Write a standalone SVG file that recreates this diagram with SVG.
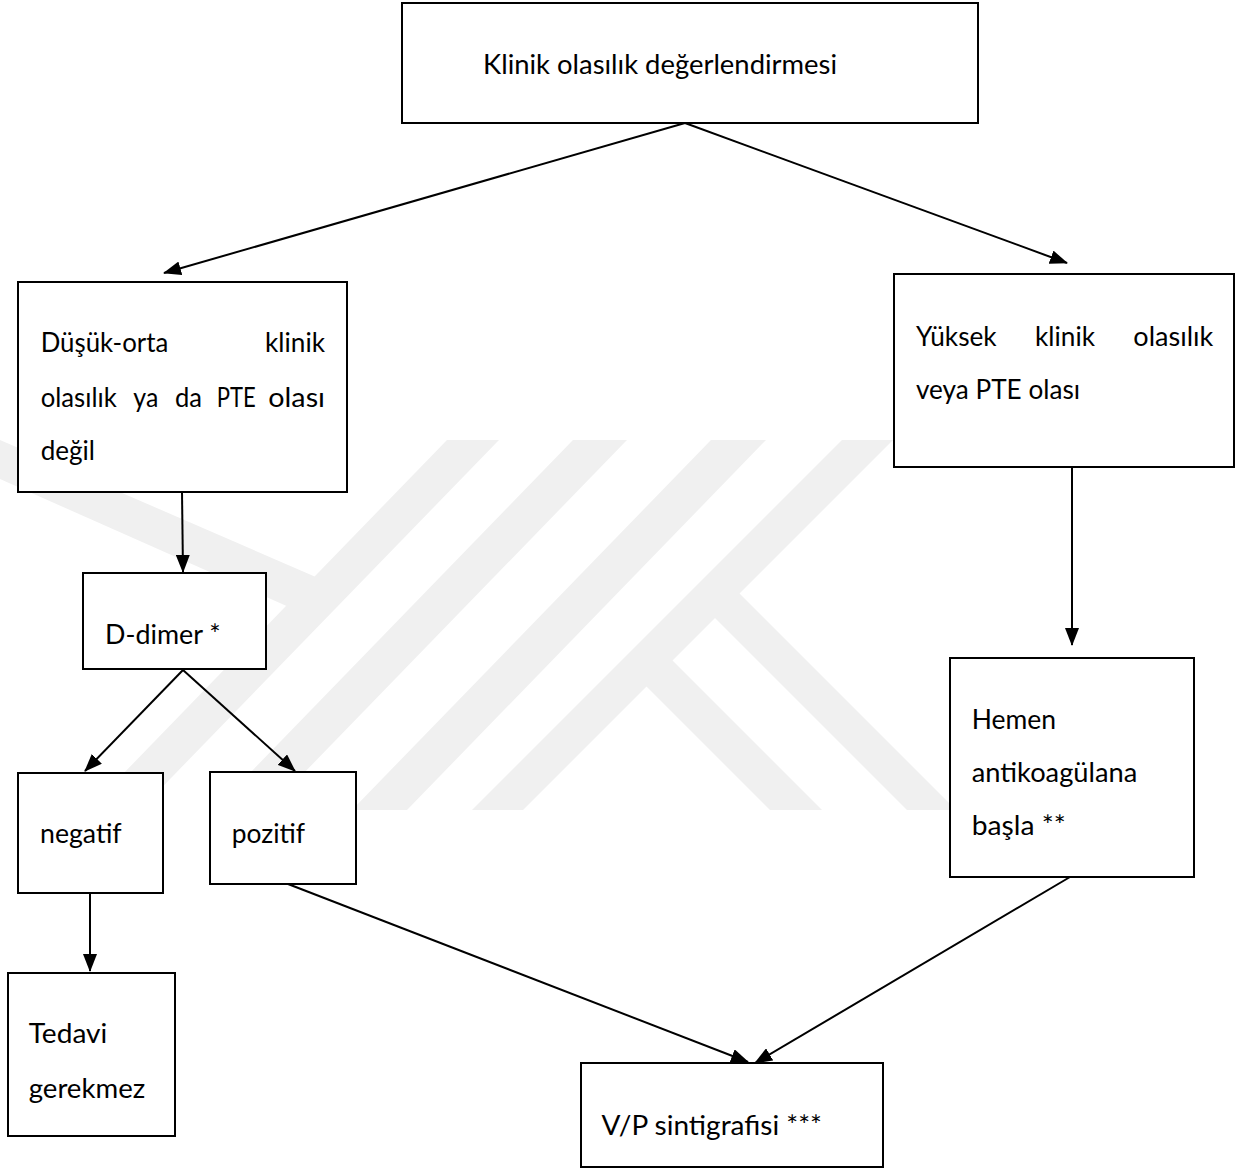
<svg xmlns="http://www.w3.org/2000/svg" width="1248" height="1172" viewBox="0 0 1248 1172">
<style>
.box{fill:#fff;stroke:#000;stroke-width:2}
.t{font-family:Lato,"Open Sans","Liberation Sans",sans-serif;font-size:27px;fill:#000}
.c{stroke:#000;stroke-width:2;fill:none;marker-end:url(#ah)}
.wm{fill:#f0f0f0}
</style>
<defs>
<marker id="ah" markerUnits="userSpaceOnUse" viewBox="0 0 18 14" refX="17" refY="7" markerWidth="18" markerHeight="14" orient="auto">
<path d="M0,0 L18,7 L0,14 z" fill="#000"/>
</marker>
</defs>
<rect width="1248" height="1172" fill="#fff"/>
<g id="watermark">
<polygon class="wm" points="447,440 499,440 140,810 88,810"/>
<polygon class="wm" points="0,440 325,581 300,612 0,479"/>
<polygon class="wm" points="573,440 627,440 268,810 214,810"/>
<polygon class="wm" points="711,440 766,440 407,810 352,810"/>
<polygon class="wm" points="842,440 893,440 523,810 472,810"/>
<polygon class="wm" points="729,583 956,810 907,810 700,603"/>
<polygon class="wm" points="660,648 822,810 770,810 628,668"/>
</g>
<g id="connectors">
<line class="c" x1="685" y1="123" x2="164" y2="273"/>
<line class="c" x1="685" y1="123" x2="1067" y2="263"/>
<line class="c" x1="182" y1="492" x2="183" y2="572"/>
<line class="c" x1="183" y1="670" x2="85" y2="771"/>
<line class="c" x1="183" y1="670" x2="295" y2="771"/>
<line class="c" x1="1072" y1="467" x2="1072" y2="645"/>
<line class="c" x1="90" y1="893" x2="90" y2="971"/>
<line class="c" x1="288" y1="884" x2="748" y2="1062"/>
<line class="c" x1="1070" y1="877" x2="755" y2="1063"/>
</g>
<g id="n1">
<rect class="box" x="402" y="3" width="576" height="120"/>
<text class="t" x="483" y="74" textLength="354" lengthAdjust="spacingAndGlyphs">Klinik olasılık değerlendirmesi</text>
</g>
<g id="n2">
<rect class="box" x="18" y="282" width="329" height="210"/>
<text class="t" x="40.7" y="351.7" textLength="127.6" lengthAdjust="spacingAndGlyphs">Düşük-orta</text>
<text class="t" x="265" y="351.7" textLength="60" lengthAdjust="spacingAndGlyphs">klinik</text>
<text class="t" x="40.7" y="406.7" textLength="76" lengthAdjust="spacingAndGlyphs">olasılık</text>
<text class="t" x="133.3" y="406.7" textLength="25" lengthAdjust="spacingAndGlyphs">ya</text>
<text class="t" x="175" y="406.7" textLength="27" lengthAdjust="spacingAndGlyphs">da</text>
<text class="t" x="216.7" y="406.7" textLength="39" lengthAdjust="spacingAndGlyphs">PTE</text>
<text class="t" x="268.3" y="406.7" textLength="56.7" lengthAdjust="spacingAndGlyphs">olası</text>
<text class="t" x="40.7" y="460" textLength="54.3" lengthAdjust="spacingAndGlyphs">değil</text>
</g>
<g id="n3">
<rect class="box" x="894" y="274" width="340" height="193"/>
<text class="t" x="916" y="346" textLength="80.7" lengthAdjust="spacingAndGlyphs">Yüksek</text>
<text class="t" x="1035" y="346" textLength="60" lengthAdjust="spacingAndGlyphs">klinik</text>
<text class="t" x="1133.3" y="346" textLength="80" lengthAdjust="spacingAndGlyphs">olasılık</text>
<text class="t" x="916" y="399.3" textLength="164" lengthAdjust="spacingAndGlyphs">veya PTE olası</text>
</g>
<g id="n4">
<rect class="box" x="83" y="573" width="183" height="96"/>
<text class="t" x="105" y="644" textLength="115.7" lengthAdjust="spacingAndGlyphs">D-dimer *</text>
</g>
<g id="n5">
<rect class="box" x="18" y="773" width="145" height="120"/>
<text class="t" x="40" y="843" textLength="81.7" lengthAdjust="spacingAndGlyphs">negatif</text>
</g>
<g id="n6">
<rect class="box" x="210" y="772" width="146" height="112"/>
<text class="t" x="231.7" y="843" textLength="73.3" lengthAdjust="spacingAndGlyphs">pozitif</text>
</g>
<g id="n7">
<rect class="box" x="950" y="658" width="244" height="219"/>
<text class="t" x="971.7" y="729" textLength="84.3" lengthAdjust="spacingAndGlyphs">Hemen</text>
<text class="t" x="971.7" y="781.7" textLength="165.6" lengthAdjust="spacingAndGlyphs">antikoagülana</text>
<text class="t" x="971.7" y="835" textLength="94" lengthAdjust="spacingAndGlyphs">başla **</text>
</g>
<g id="n8">
<rect class="box" x="8" y="973" width="167" height="163"/>
<text class="t" x="28.7" y="1043" textLength="78.6" lengthAdjust="spacingAndGlyphs">Tedavi</text>
<text class="t" x="28.7" y="1098" textLength="116.5" lengthAdjust="spacingAndGlyphs">gerekmez</text>
</g>
<g id="n9">
<rect class="box" x="581" y="1063" width="302" height="104"/>
<text class="t" x="601.6" y="1135" textLength="220.4" lengthAdjust="spacingAndGlyphs">V/P sintigrafisi ***</text>
</g>
</svg>
